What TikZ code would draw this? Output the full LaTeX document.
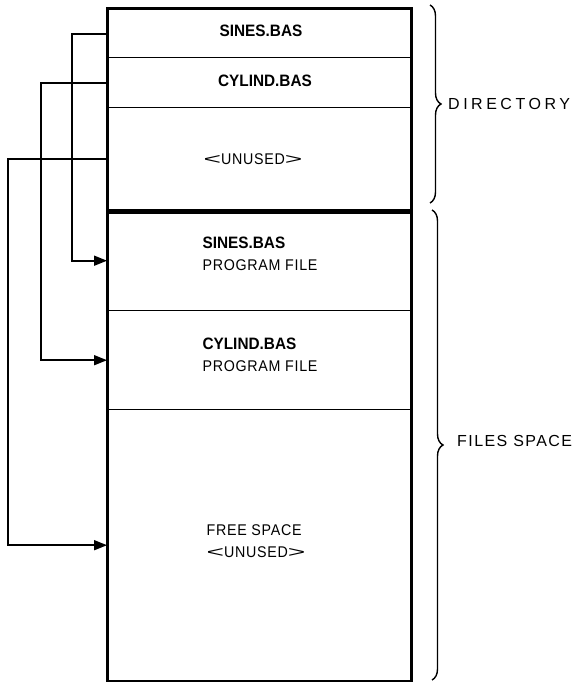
\documentclass[tikz,border=0pt]{standalone}
\usepackage{fontspec}
\usepackage{graphicx}
\setmainfont{Liberation Sans}
\usetikzlibrary{arrows.meta,decorations.pathreplacing}
\newcommand{\rtxt}[1]{\scalebox{0.92}[1]{\fontsize{15.5}{22}\selectfont\addfontfeature{LetterSpace=5}#1}}
\newcommand{\btxt}[1]{\scalebox{0.93}[1]{\fontsize{16.5}{22}\selectfont\bfseries #1}}
\newcommand{\chl}{\scalebox{2.1}[1]{<}}
\newcommand{\chr}{\scalebox{2.1}[1]{>}}
\begin{document}
\begin{tikzpicture}[x=1pt,y=-1pt,
  seg/.style={draw, line width=1.4pt, minimum width=303pt, inner sep=0pt, anchor=north west},
  conn/.style={line width=1.7pt, -{Triangle[length=13pt,width=10pt]}},
  txt/.style={font=\fontsize{15.5}{22}\selectfont, align=left, inner sep=0pt},
  sidetxt/.style={font=\fontsize{16}{18}\selectfont, anchor=west, inner sep=0pt},
  bracedeco/.style={decorate, decoration={brace, amplitude=11pt}, line width=1.4pt}]
\useasboundingbox (0,0) rectangle (579,682);
% segments
\node[seg, minimum height=48pt] (d1) at (107,9) {};
\node[seg, minimum height=50pt] (d2) at (107,57) {};
\node[seg, minimum height=103pt] (d3) at (107,107) {};
\node[seg, minimum height=100pt] (f1) at (107,210) {};
\node[seg, minimum height=99pt] (f2) at (107,310) {};
\node[seg, minimum height=271pt] (f3) at (107,409) {};
\draw[line width=3pt] (d1.north west) rectangle (f3.south east);
\draw[line width=4.5pt] (d3.south west) -- (d3.south east);
% texts
\node[txt] (t1) at (261,31) {\btxt{SINES.BAS}};
\node[txt] (t2) at (265,81) {\btxt{CYLIND.BAS}};
\node[txt] (t3) at (253,159) {\rtxt{\chl UNUSED\chr}};
\node[txt] (t4) at (260,254) {\btxt{SINES.BAS}\\\rtxt{PROGRAM FILE}};
\node[txt] (t5) at (260,355) {\btxt{CYLIND.BAS}\\\rtxt{PROGRAM FILE}};
\node[txt] (t6) at (256,541) {\rtxt{FREE SPACE}\\\rtxt{\chl UNUSED\chr}};
% connectors
\draw[conn] (d1.west) -- ++(-35,0) |- (f1.west);
\draw[conn] (d2.west) -- ++(-66,0) |- (f2.west);
\draw[conn] (d3.west) -- ++(-99,0) |- (f3.west);
% braces
\draw[bracedeco] (430,5) -- (430,203);
\draw[bracedeco] (432,210) -- (432,680);
\node[sidetxt] (dir) at (448,104) {\addfontfeature{LetterSpace=22}DIRECTORY};
\node[sidetxt] (fs) at (457,441) {\addfontfeature{LetterSpace=9}FILES SPACE};
\end{tikzpicture}
\end{document}
